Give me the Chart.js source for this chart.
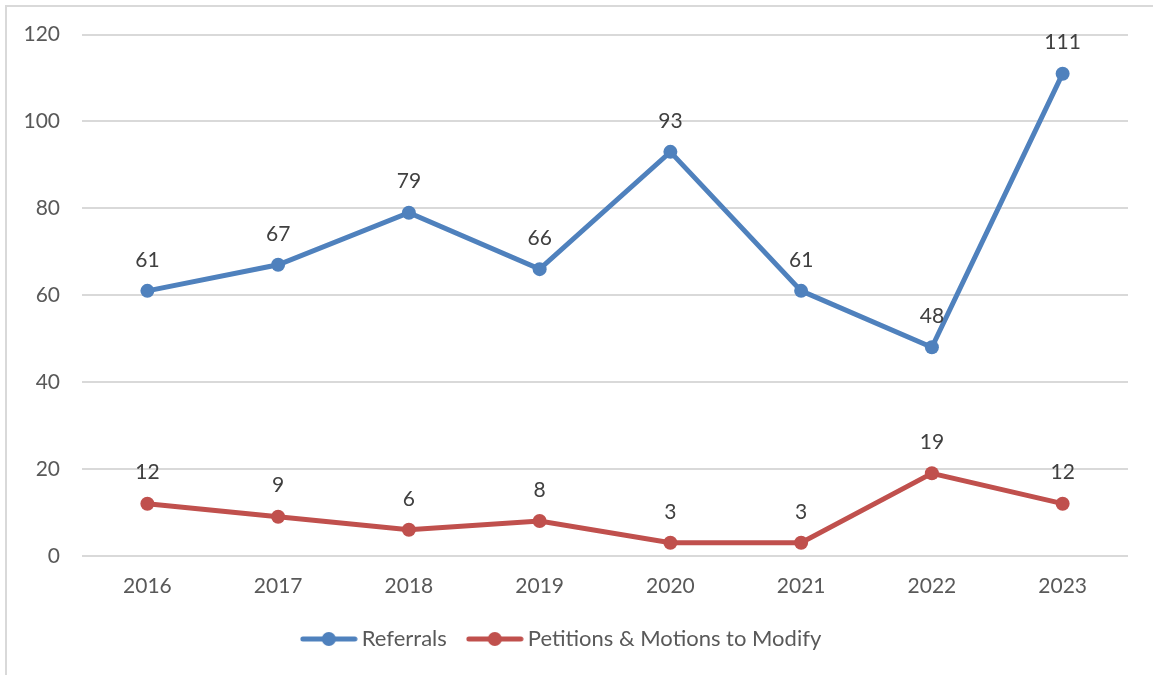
<!DOCTYPE html>
<html>
<head>
<meta charset="utf-8">
<script src="https://cdn.jsdelivr.net/npm/chart.js@4.4.1/dist/chart.umd.min.js"></script>
<style>
	html, body { margin: 0; padding: 0; background: #fff; }
	#wrap { position: relative; width: 1153px; height: 675px; overflow: hidden; }
	#frame { position: absolute; left: 5px; top: 5px; width: 1200px; height: 720px;
		border-left: 2px solid #d9d9d9; border-top: 2px solid #d9d9d9; }
	#chart { position: absolute; left: 0; top: 0; }
</style>
</head>
<body>
<div id="wrap">
	<div id="frame"></div>
	<canvas id="chart" width="1153" height="675"></canvas>
</div>
<script>
(() => {
	'use strict'

	const years = ['2016', '2017', '2018', '2019', '2020', '2021', '2022', '2023'];
	const referrals = [61, 67, 79, 66, 93, 61, 48, 111];
	const petitions = [12, 9, 6, 8, 3, 3, 19, 12];
	const yTicks = [0, 20, 40, 60, 80, 100, 120];

	const blue = '#4f81bd';
	const red = '#c0504d';
	const textColor = '#595959';
	const gridColor = '#d9d9d9';
	const fontFamily = 'Lato, "Open Sans", sans-serif';

	// Legend marker: short line with a dot in the middle
	function legendMarker(color) {
		const c = document.createElement('canvas');
		c.width = 58;
		c.height = 16;
		const ctx = c.getContext('2d');
		ctx.strokeStyle = color;
		ctx.lineWidth = 5;
		ctx.lineCap = 'round';
		ctx.beginPath();
		ctx.moveTo(3, 8);
		ctx.lineTo(55, 8);
		ctx.stroke();
		ctx.fillStyle = color;
		ctx.beginPath();
		ctx.arc(29, 8, 7, 0, Math.PI * 2);
		ctx.fill();
		return c;
	}

	// Value labels above each point
	const valueLabels = {
		id: 'valueLabels',
		afterDatasetsDraw(chart) {
			const ctx = chart.ctx;
			ctx.save();
			ctx.font = '21px ' + fontFamily;
			ctx.fillStyle = '#404040';
			ctx.textAlign = 'center';
			ctx.textBaseline = 'middle';
			chart.data.datasets.forEach((ds, i) => {
				chart.getDatasetMeta(i).data.forEach((pt, j) => {
					ctx.fillText(String(ds.data[j]), pt.x, pt.y - 31);
				});
			});
			ctx.restore();
		}
	};

	const config = {
		type: 'line',
		data: {
			labels: years,
			datasets: [
				{
					label: 'Referrals',
					data: referrals,
					borderColor: blue,
					backgroundColor: blue,
					borderWidth: 5,
					pointRadius: 7,
					pointHoverRadius: 7,
					pointBorderWidth: 0,
					pointStyle: 'circle',
					tension: 0,
				},
				{
					label: 'Petitions & Motions to Modify',
					data: petitions,
					borderColor: red,
					backgroundColor: red,
					borderWidth: 5,
					pointRadius: 7,
					pointHoverRadius: 7,
					pointBorderWidth: 0,
					pointStyle: 'circle',
					tension: 0,
				}
			]
		},
		options: {
			responsive: false,
			animation: false,
			layout: {
				padding: { left: 0, right: 25, top: 34, bottom: 15 }
			},
			plugins: {
				tooltip: { enabled: false },
				legend: {
					position: 'bottom',
					labels: {
						usePointStyle: true,
						pointStyleWidth: 44,
						color: textColor,
						padding: 26,
						font: { family: fontFamily, size: 22 },
						generateLabels(chart) {
							return chart.data.datasets.map((ds, i) => ({
								text: ds.label,
								pointStyle: legendMarker(ds.borderColor),
								fontColor: textColor,
								lineWidth: 0,
								hidden: false,
								datasetIndex: i,
							}));
						}
					}
				}
			},
			scales: {
				x: {
					offset: true,
					grid: { display: false },
					border: { display: false },
					afterFit(scale) {
						scale.height -= 7;
					},
					ticks: {
						color: textColor,
						padding: 10,
						font: { family: fontFamily, size: 21 }
					}
				},
				y: {
					min: 0,
					max: 120,
					afterBuildTicks(scale) {
						scale.ticks = yTicks.map(v => ({ value: v }));
					},
					afterFit(scale) {
						scale.width = 82;
					},
					grid: { color: gridColor, lineWidth: 2, drawTicks: false },
					border: { display: false },
					ticks: {
						color: textColor,
						padding: 22,
						font: { family: fontFamily, size: 21 }
					}
				}
			}
		},
		plugins: [valueLabels]
	};

	new Chart(document.getElementById('chart'), config);
})()
</script>
</body>
</html>
